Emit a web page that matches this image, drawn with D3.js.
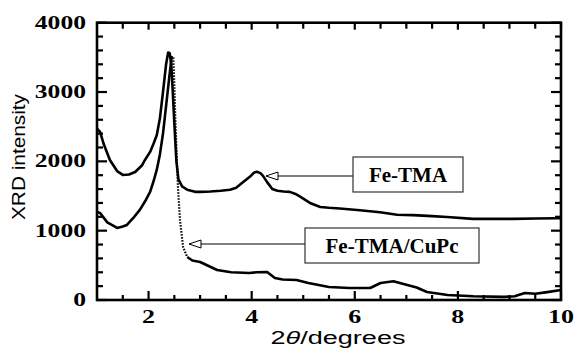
<!DOCTYPE html>
<html>
<head>
<meta charset="utf-8">
<script src="https://cdn.jsdelivr.net/npm/d3@7"></script>
<style>
  body { margin: 0; background: #fff; }
  .serif { font-family: "Liberation Serif", "Times New Roman", serif; font-weight: bold; }
  .sans { font-family: "Liberation Sans", Arial, sans-serif; }
</style>
</head>
<body>
<div id="chart"></div>
<script>
// upper curve: Fe-TMA
const feTmaX = [1.0, 1.06, 1.13, 1.25, 1.39, 1.5, 1.62, 1.74, 1.87, 1.93, 2.03, 2.1, 2.16, 2.22, 2.28, 2.34, 2.38, 2.41,
  2.44, 2.47, 2.5, 2.54, 2.58, 2.65, 2.75, 2.9, 3.0, 3.2, 3.4, 3.58, 3.7, 3.8, 3.97, 4.05, 4.1, 4.17, 4.22, 4.3, 4.4,
  4.5, 4.62, 4.74, 4.85, 4.94, 5.13, 5.33, 5.5, 5.71, 6.1, 6.49, 6.82, 7.13, 7.5, 7.79, 8.29, 8.7, 9.07, 9.5, 9.92, 10.0];
const feTmaY = [2470, 2424, 2250, 2020, 1860, 1804, 1810, 1847, 1940, 2020, 2136, 2260, 2380, 2620, 3000, 3400, 3570, 3560,
  3400, 3000, 2550, 2000, 1740, 1640, 1590, 1560, 1560, 1565, 1575, 1590, 1620, 1680, 1780, 1840, 1850, 1830, 1790, 1700, 1600,
  1575, 1565, 1560, 1530, 1490, 1400, 1342, 1330, 1320, 1295, 1265, 1230, 1225, 1210, 1198, 1170, 1170, 1170, 1175, 1180, 1180];

// lower curve: Fe-TMA/CuPc
const cupcX = [1.0, 1.06, 1.2, 1.39, 1.5, 1.58, 1.7, 1.83, 1.93, 2.03, 2.1, 2.16, 2.22, 2.28, 2.34, 2.4, 2.45, 2.48,
  2.5, 2.52, 2.55, 2.57, 2.61, 2.67, 2.75, 2.85, 3.0, 3.33, 3.6, 3.95, 4.1, 4.3, 4.45, 4.6, 4.87, 5.1, 5.5, 5.9, 6.3,
  6.5, 6.75, 7.0, 7.2, 7.4, 7.8, 8.3, 8.9, 9.1, 9.3, 9.5, 9.7, 10.0];
const cupcY = [1270, 1255, 1120, 1040, 1060, 1083, 1180, 1300, 1420, 1560, 1720, 1880, 2100, 2400, 2800, 3200, 3520, 3500,
  3100, 2600, 2000, 1630, 1150, 765, 620, 570, 548, 433, 400, 390, 400, 404, 317, 295, 289, 245, 188, 173, 173,
  245, 270, 220, 180, 115, 72, 55, 45, 55, 100, 90, 110, 144];
// the steep drop after the peak is printed as a dotted trace
const cupcDotted = [2.47, 2.76];

const xTicks = [2, 4, 6, 8, 10];
const yTicks = [0, 1000, 2000, 3000, 4000];

const w = 577, h = 351;
const margin = { top: 22.7, right: 16, bottom: 51, left: 97 };
const iw = w - margin.left - margin.right;
const ih = h - margin.top - margin.bottom;

const svg = d3.select("#chart").append("svg")
  .attr("width", w)
  .attr("height", h);

const g = svg.append("g")
  .attr("transform", "translate(" + margin.left + "," + margin.top + ")");

const x = d3.scaleLinear().domain([1, 10]).range([0, iw]);
const y = d3.scaleLinear().domain([0, 4000]).range([ih, 0]);

// inward ticks on all four sides
const xMinor = d3.range(1.5, 10, 0.5).filter(v => xTicks.indexOf(v) < 0);
const yMinor = d3.range(200, 4000, 200).filter(v => yTicks.indexOf(v) < 0);

function xTickMarks(values, len, atY, dir) {
  g.append("g").selectAll("line").data(values).enter().append("line")
    .attr("x1", d => x(d)).attr("x2", d => x(d))
    .attr("y1", atY).attr("y2", atY + dir * len)
    .attr("stroke", "#000").attr("stroke-width", 2.2);
}
function yTickMarks(values, len, atX, dir) {
  g.append("g").selectAll("line").data(values).enter().append("line")
    .attr("y1", d => y(d)).attr("y2", d => y(d))
    .attr("x1", atX).attr("x2", atX + dir * len)
    .attr("stroke", "#000").attr("stroke-width", 2.2);
}
xTickMarks(xTicks, 9, ih, -1);
xTickMarks(xMinor, 5, ih, -1);
xTickMarks(xTicks, 7, 0, 1);
xTickMarks(xMinor, 6, 0, 1);
yTickMarks(yTicks, 10, 0, 1);
yTickMarks(yMinor, 6, 0, 1);
yTickMarks(yTicks, 10, iw, -1);
yTickMarks(yMinor, 6, iw, -1);

g.append("rect")
  .attr("width", iw)
  .attr("height", ih)
  .attr("fill", "none")
  .attr("stroke", "#000")
  .attr("stroke-width", 2.6);

// tick labels (wide bold serif digits)
g.selectAll(".xlab").data(xTicks).enter().append("text")
  .attr("class", "serif")
  .attr("x", d => x(d))
  .attr("y", ih + 23)
  .attr("text-anchor", "middle")
  .attr("font-size", 19)
  .attr("textLength", d => String(d).length * 13)
  .attr("lengthAdjust", "spacingAndGlyphs")
  .text(d => d);

g.selectAll(".ylab").data(yTicks).enter().append("text")
  .attr("class", "serif")
  .attr("x", -11)
  .attr("y", d => y(d) + 6)
  .attr("text-anchor", "end")
  .attr("font-size", 19)
  .attr("textLength", d => String(d).length * 12.8)
  .attr("lengthAdjust", "spacingAndGlyphs")
  .text(d => d);

// axis titles
svg.append("text")
  .attr("class", "sans")
  .attr("transform", "translate(25,157) rotate(-90)")
  .attr("text-anchor", "middle")
  .attr("font-size", 18)
  .attr("textLength", 126)
  .attr("lengthAdjust", "spacingAndGlyphs")
  .text("XRD intensity");

const xt = svg.append("text")
  .attr("class", "sans")
  .attr("x", 338)
  .attr("y", 344)
  .attr("text-anchor", "middle")
  .attr("font-size", 18)
  .attr("textLength", 135)
  .attr("lengthAdjust", "spacingAndGlyphs");
xt.append("tspan").text("2");
xt.append("tspan").attr("font-style", "italic").text("\u03b8");
xt.append("tspan").text("/degrees");

// curves
const line = d3.line().x(d => x(d[0])).y(d => y(d[1]));
const feTma = feTmaX.map((v, i) => [v, feTmaY[i]]);
const cupc = cupcX.map((v, i) => [v, cupcY[i]]);

g.append("path")
  .datum(feTma)
  .attr("d", line)
  .attr("fill", "none")
  .attr("stroke", "#000")
  .attr("stroke-width", 2.6)
  .attr("stroke-linejoin", "round");

g.append("path")
  .datum(cupc.filter(d => d[0] <= cupcDotted[0]))
  .attr("d", line)
  .attr("fill", "none")
  .attr("stroke", "#000")
  .attr("stroke-width", 2.6)
  .attr("stroke-linejoin", "round");

g.append("path")
  .datum(cupc.filter(d => d[0] >= cupcDotted[0] && d[0] <= cupcDotted[1]))
  .attr("d", line)
  .attr("fill", "none")
  .attr("stroke", "#000")
  .attr("stroke-width", 2.2)
  .attr("stroke-dasharray", "1.5,1.5");

g.append("path")
  .datum(cupc.filter(d => d[0] >= cupcDotted[1] - 0.01))
  .attr("d", line)
  .attr("fill", "none")
  .attr("stroke", "#000")
  .attr("stroke-width", 2.6)
  .attr("stroke-linejoin", "round");

// labels with open arrowheads
svg.append("defs").append("marker")
  .attr("id", "open")
  .attr("viewBox", "0 0 14 10")
  .attr("refX", 1)
  .attr("refY", 5)
  .attr("markerWidth", 14)
  .attr("markerHeight", 10)
  .attr("markerUnits", "userSpaceOnUse")
  .attr("orient", "auto")
  .append("path")
  .attr("d", "M13,1 L1,5 L13,9 Z")
  .attr("fill", "#fff")
  .attr("stroke", "#000")
  .attr("stroke-width", 1);

function label(txt, bx, by, bw, bh, tipX, tipY) {
  svg.append("line")
    .attr("x1", tipX).attr("y1", tipY)
    .attr("x2", bx).attr("y2", tipY)
    .attr("stroke", "#000")
    .attr("stroke-width", 1)
    .attr("marker-start", "url(#open)");
  svg.append("rect")
    .attr("x", bx).attr("y", by)
    .attr("width", bw).attr("height", bh)
    .attr("fill", "#fff")
    .attr("stroke", "#333")
    .attr("stroke-width", 1.2);
  svg.append("text")
    .attr("class", "serif")
    .attr("x", bx + bw / 2)
    .attr("y", by + bh / 2 + 7)
    .attr("text-anchor", "middle")
    .attr("font-size", 21)
    .text(txt);
}
label("Fe-TMA", 353, 157, 110, 35, 266, 176);
label("Fe-TMA/CuPc", 305, 228, 174, 35, 189, 244);
</script>
</body>
</html>
